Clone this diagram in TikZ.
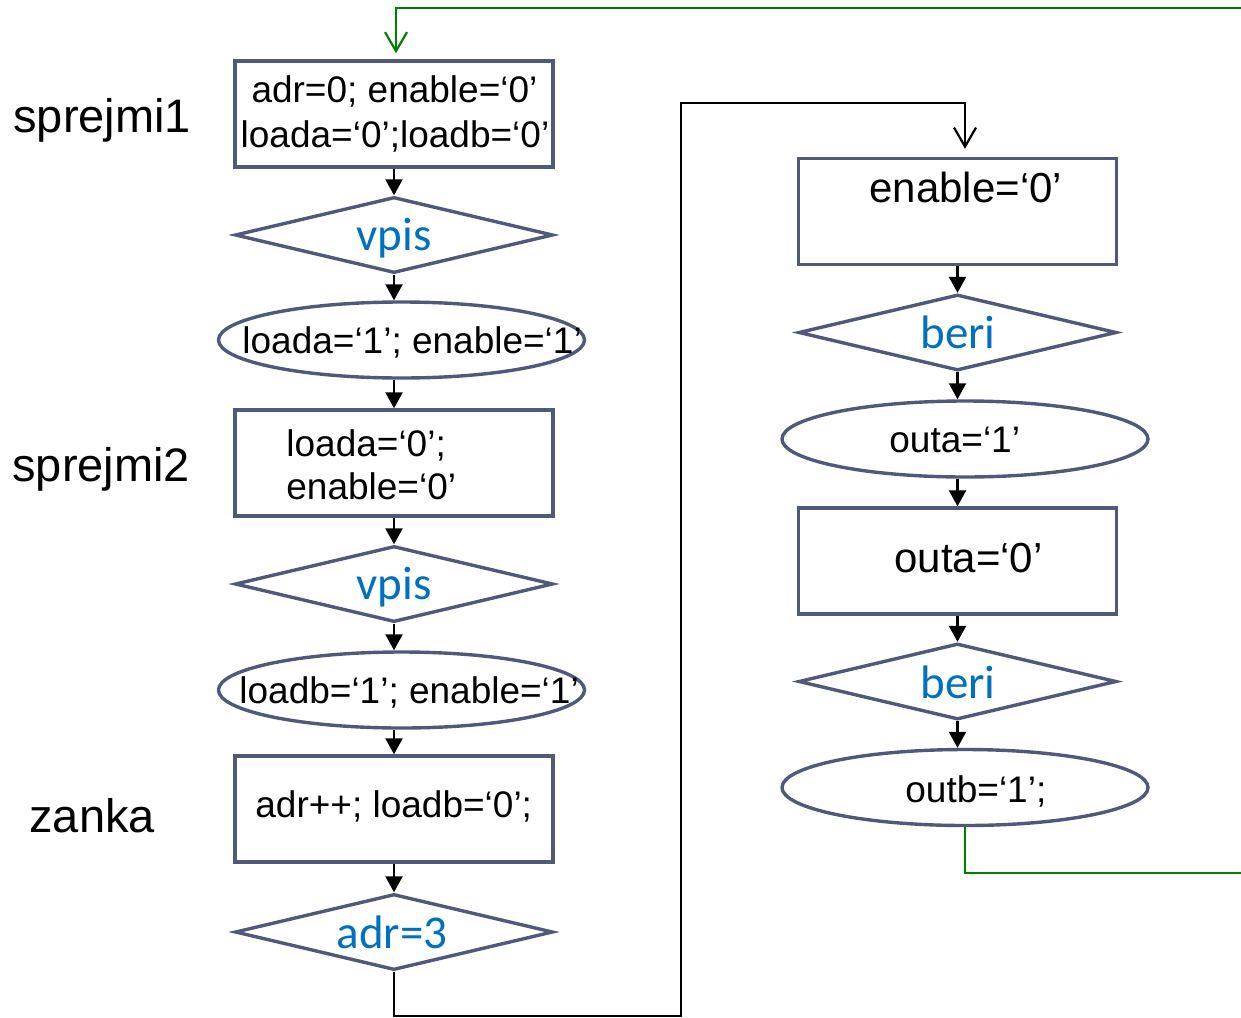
\documentclass[tikz,border=0pt]{standalone}
\usepackage{fontspec}
\setmainfont{Liberation Sans}
\newfontfamily\condfont{Carlito}
\usetikzlibrary{shapes.geometric,arrows.meta}
\definecolor{edgegray}{RGB}{80,89,122}
\definecolor{condblue}{RGB}{0,112,192}
\definecolor{loopgreen}{RGB}{0,128,0}

\begin{document}
\begin{tikzpicture}[x=0.5pt,y=-0.5pt,
  box/.style={draw=edgegray,line width=1.7pt,minimum width=159pt,minimum height=53pt,inner sep=0pt},
  test/.style={diamond,draw=edgegray,line width=1.7pt,minimum width=159pt,minimum height=38pt,inner sep=0pt},
  oval/.style={ellipse,draw=edgegray,line width=1.7pt,minimum width=183pt,minimum height=38pt,inner sep=0pt},
  txt/.style={font=\fontsize{18.5}{22}\selectfont,inner sep=0pt},
  bigtxt/.style={font=\fontsize{21}{25}\selectfont,inner sep=0pt},
  tag/.style={font=\fontsize{23.5}{28}\selectfont,inner sep=0pt},
  cond/.style={font=\condfont\fontsize{23.5}{28}\selectfont,text=condblue,inner sep=0pt},
  flow/.style={line width=1.1pt,-{Triangle[length=8pt,width=8.5pt]}},
  jump/.style={line width=1.1pt,line join=miter,-{Straight Barb[length=9.5pt,width=11pt]}},
  back/.style={jump,draw=loopgreen}
]
\useasboundingbox (0,0) rectangle (1241,1017);

% left column
\node[box]  (r1) at (394,114) {};
\node[test] (d1) at (394,235) {};
\node[oval] (e1) at (401.5,340) {};
\node[box]  (r2) at (394,463) {};
\node[test] (d2) at (394,584) {};
\node[oval] (e2) at (401.5,690) {};
\node[box]  (r3) at (394,809) {};
\node[test] (d3) at (394,932) {};

% right column
\node[box]  (r4) at (957.5,211.5) {};
\node[test] (d4) at (957.5,332.5) {};
\node[oval] (e3) at (965,439) {};
\node[box]  (r5) at (957.5,561) {};
\node[test] (d5) at (957.5,681.5) {};
\node[oval] (e4) at (965,787.5) {};

% texts of the left column
\node[txt,anchor=base] (t1a) at (394.5,102) {adr=0; enable=‘0’};
\node[txt,anchor=base] (t1b) at (395,147) {loada=‘0’;loadb=‘0’};
\node[cond,anchor=base] (c1) at (394,250) {vpis};
\node[txt,anchor=base west] (t2) at (242,353) {loada=‘1’; enable=‘1’};
\node[txt,anchor=base west] (t3a) at (286,456) {loada=‘0’;};
\node[txt,anchor=base west] (t3b) at (286,499) {enable=‘0’};
\node[cond,anchor=base] (c2) at (394,599) {vpis};
\node[txt,anchor=base west] (t4) at (239,703) {loadb=‘1’; enable=‘1’};
\node[txt,anchor=base west] (t5) at (255,817) {adr++; loadb=‘0’;};
\node[cond,anchor=base] (c3) at (392,948) {adr=3};

% texts of the right column
\node[bigtxt,anchor=base west] (t6) at (869,202) {enable=‘0’};
\node[cond,anchor=base] (c4) at (958,348) {beri};
\node[txt,anchor=base west] (t7) at (889,452) {outa=‘1’};
\node[bigtxt,anchor=base west] (t8) at (894,572) {outa=‘0’};
\node[cond,anchor=base] (c5) at (958,698) {beri};
\node[txt,anchor=base west] (t9) at (905,802) {outb=‘1’;};

% state names
\node[tag,anchor=base west] (l1) at (13,132) {sprejmi1};
\node[tag,anchor=base west] (l2) at (12,481) {sprejmi2};
\node[tag,anchor=base west] (l3) at (29,832) {zanka};

% flow arrows
\draw[flow] (r1.south) -- (d1.north);
\draw[flow] (d1.south) -- (e1.north -| d1.south);
\draw[flow] (e1.south -| r2.north) -- (r2.north);
\draw[flow] (r2.south) -- (d2.north);
\draw[flow] (d2.south) -- (e2.north -| d2.south);
\draw[flow] (e2.south -| r3.north) -- (r3.north);
\draw[flow] (r3.south) -- (d3.north);

\draw[flow] (r4.south) -- (d4.north);
\draw[flow] (d4.south) -- (e3.north -| d4.south);
\draw[flow] (e3.south -| r5.north) -- (r5.north);
\draw[flow] (r5.south) -- (d5.north);
\draw[flow] (d5.south) -- (e4.north -| d5.south);

% jump from the left column to the right one
\coordinate (k2) at (681,1016);
\coordinate (k4) at (965,103);
\draw[jump,shorten >=4pt] (d3.south) |- (k2) |- (k4) -- (k4 |- r4.north);

% return to the start
\coordinate (g1) at (1241,873);
\coordinate (g2) at (1241,8);
\coordinate (g3) at (396,8);
\draw[back,-] (e4.south) |- (g1);
\draw[back,shorten >=3pt] (g2) -- (g3) -- (g3 |- r1.north);
\end{tikzpicture}
\end{document}
